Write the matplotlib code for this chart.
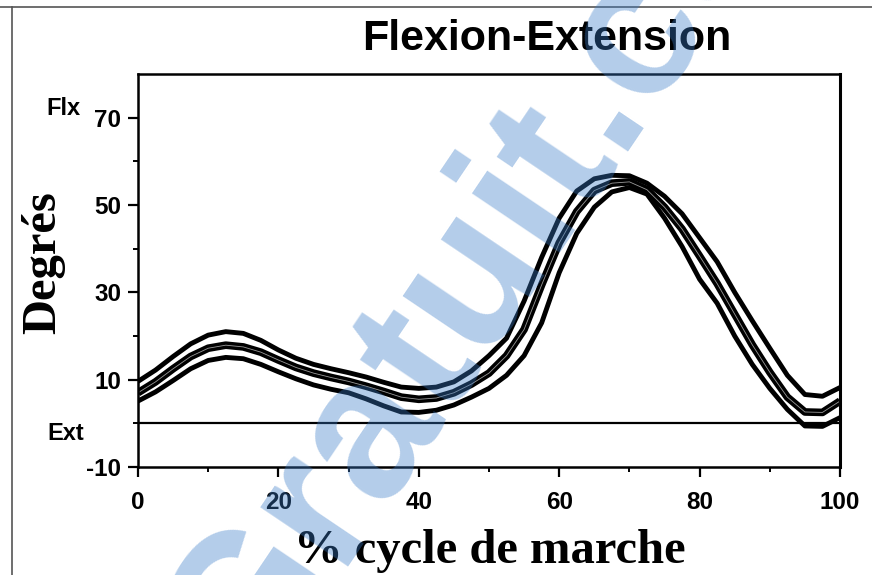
import matplotlib
matplotlib.use("Agg")
import matplotlib.pyplot as plt
from matplotlib.lines import Line2D

# % of gait cycle
cycle_pct = [0, 2.5, 5, 7.5, 10, 12.5, 15, 17.5, 20, 22.5, 25, 27.5, 30, 32.5, 35, 37.5,
             40, 42.5, 45, 47.5, 50, 52.5, 55, 57.5, 60, 62.5, 65, 67.5, 70, 72.5, 75,
             77.5, 80, 82.5, 85, 87.5, 90, 92.5, 95, 97.5, 100]

# knee angle (degrees): mean + SD, mean, mean - SD
knee_upper = [9.6, 12.2, 15.3, 18.2, 20.2, 21.0, 20.6, 19.0, 16.8, 14.9, 13.5, 12.5, 11.6,
              10.6, 9.4, 8.3, 8.0, 8.3, 9.5, 12.0, 15.5, 19.5, 28.0, 38.0, 47.0, 53.2, 56.0,
              56.8, 56.7, 55.0, 52.0, 48.0, 42.5, 37.0, 30.0, 23.5, 17.2, 11.0, 6.6, 6.2, 8.2]
knee_mean = [7.0, 9.5, 12.5, 15.3, 17.2, 17.9, 17.5, 16.3, 14.5, 12.8, 11.5, 10.5, 9.6,
             8.5, 7.3, 6.0, 5.5, 5.8, 7.0, 9.0, 11.5, 15.5, 21.5, 31.7, 41.3, 48.5, 53.3,
             55.0, 55.3, 53.5, 49.5, 44.5, 38.3, 32.0, 25.0, 18.0, 11.7, 6.0, 2.6, 2.5, 5.1]
knee_lower = [5.1, 7.2, 9.8, 12.5, 14.4, 15.1, 14.8, 13.5, 11.8, 10.2, 8.8, 7.8, 7.0,
              5.6, 4.0, 2.6, 2.5, 3.0, 4.2, 6.0, 8.0, 11.0, 15.5, 23.0, 34.5, 43.5, 49.5,
              53.0, 54.0, 52.5, 47.0, 40.5, 33.0, 27.5, 20.0, 13.5, 8.0, 3.2, -0.6, -0.7, 1.3]

x_ticks = [0, 20, 40, 60, 80, 100]
y_ticks = [-10, 10, 30, 50, 70]

sans = "Liberation Sans"
serif = "Liberation Serif"

fig = plt.figure(figsize=(8.72, 5.75), dpi=100)
ax = fig.add_axes([138 / 872, 1 - 467 / 575, 702 / 872, 393 / 575])

# the three curves, drawn like the scanned double-stroke lines
line_kw = dict(solid_capstyle="butt", solid_joinstyle="round")
ax.plot(cycle_pct, knee_upper, color="black", lw=3.5, **line_kw)
ax.plot(cycle_pct, knee_lower, color="black", lw=3.5, **line_kw)
ax.plot(cycle_pct, knee_mean, color="black", lw=5.5, **line_kw)
ax.plot(cycle_pct, knee_mean, color="white", lw=0.6, alpha=0.6, **line_kw)
ax.axhline(0, color="black", lw=1.6)

ax.set_xlim(0, 100)
ax.set_ylim(-10, 80)
ax.set_xticks(x_ticks)
ax.set_xticks(range(10, 100, 20), minor=True)
ax.set_yticks(y_ticks)
ax.set_yticks(range(0, 80, 20), minor=True)
ax.set_xticklabels([str(v) for v in x_ticks], fontsize=17.5, fontweight="bold", family=sans)
ax.set_yticklabels([str(v) for v in y_ticks], fontsize=17.5, fontweight="bold", family=sans)
ax.tick_params(axis="both", which="major", direction="out", length=7, width=1.6)
ax.tick_params(axis="both", which="minor", direction="out", length=3.5, width=1.4)
ax.tick_params(axis="x", which="major", pad=10)
ax.tick_params(axis="y", which="major", pad=5)
for side in ax.spines:
    ax.spines[side].set_linewidth(1.8)
ax.spines["right"].set_linewidth(2.2)

# texts
fig.text(547 / 872, 1 - 50 / 575, "Flexion-Extension", ha="center", va="baseline",
         fontsize=31, fontweight="bold", family=sans)
fig.text(63 / 872, 1 - 115 / 575, "Flx", ha="center", va="baseline",
         fontsize=17, fontweight="bold", family=sans)
fig.text(66 / 872, 1 - 440 / 575, "Ext", ha="center", va="baseline",
         fontsize=17, fontweight="bold", family=sans)
fig.text(55 / 872, 1 - 263 / 575, "Degrés", rotation=90, rotation_mode="anchor",
         ha="center", va="baseline", fontsize=35, fontweight="bold", family=serif)
fig.text(490 / 872, 1 - 563 / 575, "% cycle de marche", ha="center", va="baseline",
         fontsize=35, fontweight="bold", family=serif)

# thin scan border
fig.add_artist(Line2D([0, 1], [1 - 7 / 575, 1 - 7 / 575], color="#555555", lw=1.2))
fig.add_artist(Line2D([12 / 872, 12 / 872], [0, 1 - 7 / 575], color="#555555", lw=1.2))

# watermark
fig.text(522 / 872, 1 - 205 / 575, "Gratuit.com", rotation=56, rotation_mode="anchor",
         ha="center", va="center", fontsize=144, fontweight="bold", family=sans,
         color="#3a7cc8", alpha=0.38, zorder=10)

fig.savefig("out.png", dpi=100)
